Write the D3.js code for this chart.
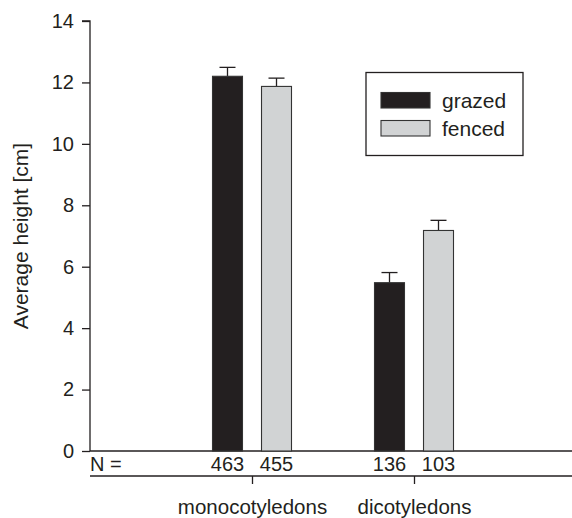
<!DOCTYPE html>
<html>
<head>
<meta charset="utf-8">
<script src="https://cdn.jsdelivr.net/npm/d3@7"></script>
<style>
    body { margin: 0; background: white; }
    svg { font-family: "Liberation Sans", Arial, sans-serif; }
</style>
</head>
<body>
<div id="chart"></div>
<script>
// 1. Data

var categories = ["monocotyledons", "dicotyledons"];
var series = ["grazed", "fenced"];
var grazedMean = [12.2, 5.48];
var grazedSE = [0.29, 0.33];
var fencedMean = [11.87, 7.18];
var fencedSE = [0.27, 0.33];
var grazedN = [463, 136];
var fencedN = [455, 103];
var yTicks = [0, 2, 4, 6, 8, 10, 12, 14];

var seriesColours = {
    "grazed": "#231f20",
    "fenced": "#d1d3d4"
}

var rows = [];
categories.forEach(function (c, i) {
    rows.push({ cat: c, s: "grazed", mean: grazedMean[i], se: grazedSE[i], n: grazedN[i] });
    rows.push({ cat: c, s: "fenced", mean: fencedMean[i], se: fencedSE[i], n: fencedN[i] });
});

// 2. Svg and scales

var width = 572, height = 518;
var plotLeft = 90, plotRight = 576, plotTop = 21, plotBottom = 451;
var ink = "#231f20";

var svg = d3.select("#chart")
    .append("svg")
    .attr("width", width)
    .attr("height", height);

var y = d3.scaleLinear().domain([0, 14]).range([plotBottom, plotTop]);

var x0 = d3.scalePoint().domain(categories).range([plotLeft, plotRight]).padding(1);

var x1 = d3.scaleBand().domain(series).range([-39.5, 39.5]).paddingInner(0.388);

// 3. Axes

var yAxis = svg.append("g")
    .attr("transform", "translate(" + plotLeft + ",0)")
    .call(d3.axisLeft(y).tickValues(yTicks).tickSize(8).tickPadding(8).tickFormat(d3.format("d")));

yAxis.select(".domain").attr("d", "M-8," + plotTop + "H0V" + plotBottom);
yAxis.selectAll("path, line").attr("stroke", ink).attr("stroke-width", 1.3);
yAxis.selectAll("text")
    .attr("fill", ink)
    .style("font-size", "20px")
    .style("font-family", "Liberation Sans, Arial, sans-serif");

// baseline of the bars
svg.append("line")
    .attr("x1", plotLeft).attr("x2", width)
    .attr("y1", plotBottom).attr("y2", plotBottom)
    .attr("stroke", ink).attr("stroke-width", 1.3);

// lower category axis
var xAxis = svg.append("g")
    .attr("transform", "translate(0,476)")
    .call(d3.axisBottom(x0).tickSize(8).tickPadding(15.5));

xAxis.select(".domain").attr("d", "M" + plotLeft + ",0H" + width);
xAxis.selectAll("path, line").attr("stroke", ink).attr("stroke-width", 1.3);
xAxis.selectAll("text")
    .attr("fill", ink)
    .style("font-size", "20.5px")
    .style("font-family", "Liberation Sans, Arial, sans-serif");

svg.append("text")
    .attr("transform", "translate(28,236) rotate(-90)")
    .attr("text-anchor", "middle")
    .attr("fill", ink)
    .style("font-size", "21px")
    .text("Average height [cm]");

// 4. Bars, error bars and N labels

var bars = svg.append("g")
    .selectAll("g")
    .data(rows)
    .enter()
    .append("g")
    .attr("transform", function (d) { return "translate(" + x0(d.cat) + ",0)" });

bars.append("line")
    .attr("x1", function (d) { return x1(d.s) + x1.bandwidth() / 2 })
    .attr("x2", function (d) { return x1(d.s) + x1.bandwidth() / 2 })
    .attr("y1", function (d) { return y(d.mean) })
    .attr("y2", function (d) { return y(d.mean + d.se) })
    .attr("stroke", ink).attr("stroke-width", 1.3);

bars.append("line")
    .attr("x1", function (d) { return x1(d.s) + x1.bandwidth() / 2 - 8 })
    .attr("x2", function (d) { return x1(d.s) + x1.bandwidth() / 2 + 8 })
    .attr("y1", function (d) { return y(d.mean + d.se) })
    .attr("y2", function (d) { return y(d.mean + d.se) })
    .attr("stroke", ink).attr("stroke-width", 1.3);

bars.append("rect")
    .attr("x", function (d) { return x1(d.s) })
    .attr("y", function (d) { return y(d.mean) })
    .attr("width", x1.bandwidth())
    .attr("height", function (d) { return y(0) - y(d.mean) })
    .attr("fill", function (d) { return seriesColours[d.s] })
    .attr("stroke", "#333")
    .attr("stroke-width", 1.1);

bars.append("text")
    .attr("x", function (d) { return x1(d.s) + x1.bandwidth() / 2 })
    .attr("y", 471)
    .attr("text-anchor", "middle")
    .attr("fill", ink)
    .style("font-size", "20px")
    .text(function (d) { return d.n });

svg.append("text")
    .attr("x", 90)
    .attr("y", 471)
    .attr("fill", ink)
    .style("font-size", "20px")
    .text("N =");

// 5. Legend

var legend = svg.append("g");

legend.append("rect")
    .attr("x", 366).attr("y", 72.5)
    .attr("width", 157).attr("height", 83)
    .attr("fill", "white")
    .attr("stroke", ink).attr("stroke-width", 1.3);

var items = legend.selectAll("g.item")
    .data(series)
    .enter()
    .append("g")
    .attr("class", "item")
    .attr("transform", function (d, i) { return "translate(0," + (i * 28) + ")" });

items.append("rect")
    .attr("x", 381).attr("y", 92.5)
    .attr("width", 49).attr("height", 15.5)
    .attr("fill", function (d) { return seriesColours[d] })
    .attr("stroke", "#333").attr("stroke-width", 1.1);

items.append("text")
    .attr("x", 442).attr("y", 108)
    .attr("fill", ink)
    .style("font-size", "21px")
    .text(function (d) { return d });
</script>
</body>
</html>
